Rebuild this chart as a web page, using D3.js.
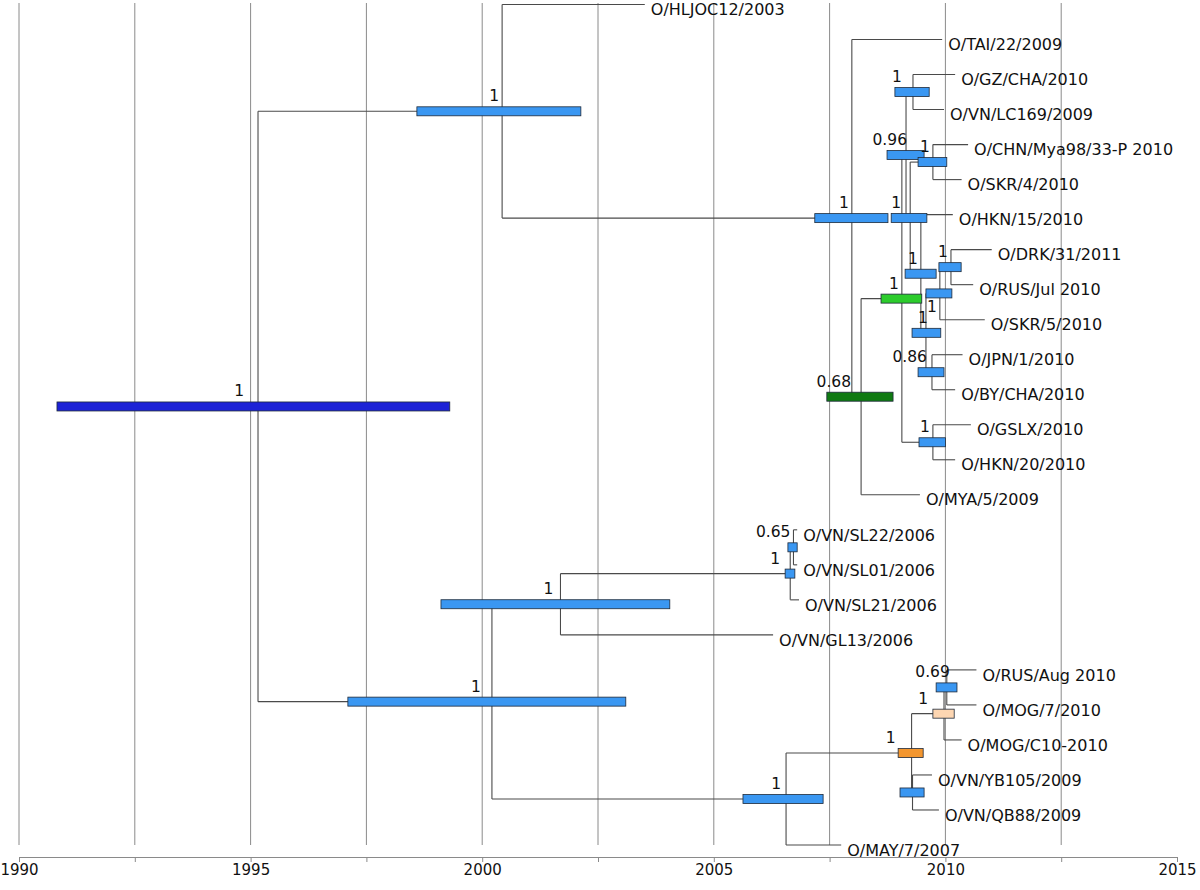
<!DOCTYPE html>
<html>
<head>
<meta charset="utf-8">
<script src="https://cdn.jsdelivr.net/npm/d3@7"></script>
<style>
  body { margin: 0; background: #fff; }
  text { font-family: "DejaVu Sans", sans-serif; }
</style>
</head>
<body>
<script>
// ---------------- DATA ----------------
const leafNames = [
  "O/HLJOC12/2003", "O/TAI/22/2009", "O/GZ/CHA/2010", "O/VN/LC169/2009",
  "O/CHN/Mya98/33-P 2010", "O/SKR/4/2010", "O/HKN/15/2010", "O/DRK/31/2011",
  "O/RUS/Jul 2010", "O/SKR/5/2010", "O/JPN/1/2010", "O/BY/CHA/2010",
  "O/GSLX/2010", "O/HKN/20/2010", "O/MYA/5/2009", "O/VN/SL22/2006",
  "O/VN/SL01/2006", "O/VN/SL21/2006", "O/VN/GL13/2006", "O/RUS/Aug 2010",
  "O/MOG/7/2010", "O/MOG/C10-2010", "O/VN/YB105/2009", "O/VN/QB88/2009",
  "O/MAY/7/2007"
];
const leafDates = [
  2003.51, 2009.93, 2010.21, 2009.97,
  2010.49, 2010.35, 2010.16, 2011.00,
  2010.60, 2010.85, 2010.37, 2010.21,
  2010.55, 2010.21, 2009.45, 2006.80,
  2006.80, 2006.84, 2006.28, 2010.67,
  2010.67, 2010.35, 2009.71, 2009.86,
  2007.75
];

const nodeNames = ["root","T","A","B","C","N3","N1","N4","N2","N5","N8","N7","N6","N9","N10",
                   "Bt","V","S1","S2","M","O","P","R","Q"];
const nodeChildren = [
  ["T","Bt"],
  ["O/HLJOC12/2003","A"],
  ["O/TAI/22/2009","B"],
  ["C","O/MYA/5/2009"],
  ["N3","N10"],
  ["N1","N4"],
  ["O/GZ/CHA/2010","O/VN/LC169/2009"],
  ["N2","N5"],
  ["O/CHN/Mya98/33-P 2010","O/SKR/4/2010"],
  ["O/HKN/15/2010","N8"],
  ["N7","N9"],
  ["N6","O/SKR/5/2010"],
  ["O/DRK/31/2011","O/RUS/Jul 2010"],
  ["O/JPN/1/2010","O/BY/CHA/2010"],
  ["O/GSLX/2010","O/HKN/20/2010"],
  ["V","M"],
  ["S1","O/VN/GL13/2006"],
  ["S2","O/VN/SL21/2006"],
  ["O/VN/SL22/2006","O/VN/SL01/2006"],
  ["O","O/MAY/7/2007"],
  ["P","Q"],
  ["R","O/MOG/C10-2010"],
  ["O/RUS/Aug 2010","O/MOG/7/2010"],
  ["O/VN/YB105/2009","O/VN/QB88/2009"]
];
const nodeDates = [1995.16, 2000.43, 2007.98, 2008.18, 2009.06, 2009.15, 2009.30, 2009.24, 2009.73,
                   2009.47, 2009.58, 2009.88, 2010.12, 2009.71, 2009.73,
                   2000.21, 2001.69, 2006.65, 2006.72, 2006.56, 2009.27, 2009.97, 2010.03, 2009.29];
const nodePosterior = ["1","1","1","0.68","1","0.96","1","1","1","1","1","1","1","0.86","1",
                       "1","1","1","0.65","1","1","1","0.69",null];
const hpdLower = [1990.82, 1998.59, 2007.18, 2007.44, 2008.61, 2008.74, 2008.91, 2008.83, 2009.41,
                  2009.13, 2009.28, 2009.58, 2009.86, 2009.41, 2009.43,
                  1997.10, 1999.11, 2006.54, 2006.60, 2005.63, 2008.98, 2009.73, 2009.80, 2009.02];
const hpdUpper = [1999.30, 2002.13, 2008.76, 2008.87, 2009.49, 2009.54, 2009.65, 2009.60, 2010.03,
                  2009.80, 2009.90, 2010.14, 2010.34, 2009.97, 2010.00,
                  2003.10, 2004.05, 2006.75, 2006.80, 2007.36, 2009.52, 2010.19, 2010.25, 2009.54];

const gridYears = [1990, 1992.5, 1995, 1997.5, 2000, 2002.5, 2005, 2007.5, 2010, 2012.5];
const tickYears = [1990, 1992.5, 1995, 1997.5, 2000, 2002.5, 2005, 2007.5, 2010, 2012.5, 2015];
const tickLabels = ["1990", "", "1995", "", "2000", "", "2005", "", "2010", "", "2015"];

// ---------------- STYLE / PLACEMENT ----------------
const barFill = {
  root: "#1c22d6", B: "#0f7a12", C: "#2ccc2c", O: "#f3962f", P: "#fdd6b2"
};
const defaultBarFill = "#3a97f2";
const labelBelow = new Set(["N7"]);
const labelNudge = { root: -11, N4: -6, N1: -8, N8: 5, Bt: -8, V: -4, S1: -7, M: -2,
                     O: -13, P: -13, N3: 4, N9: -2, B: -7, R: 6 };

// ---------------- LAYOUT ----------------
const W = 1200, H = 890;
const x = d3.scaleLinear().domain([1990, 2015]).range([19, 1177]);
const y = d3.scalePoint().domain(leafNames).range([4.5, 845]);

const pos = {};
leafNames.forEach((n, i) => { pos[n] = { x: x(leafDates[i]), y: y(n), leaf: true }; });
const nodeIndex = {};
nodeNames.forEach((n, i) => nodeIndex[n] = i);
function place(n) {
  if (pos[n]) return pos[n];
  const i = nodeIndex[n];
  const kids = nodeChildren[i].map(place);
  pos[n] = { x: x(nodeDates[i]), y: d3.mean([kids[0].y, kids[kids.length - 1].y]), leaf: false };
  return pos[n];
}
place("root");

const svg = d3.select("body").append("svg").attr("width", W).attr("height", H);

// grid
svg.append("g").selectAll("line").data(gridYears).join("line")
  .attr("x1", d => x(d)).attr("x2", d => x(d))
  .attr("y1", 3).attr("y2", 845)
  .attr("stroke", "#8a8a8a").attr("stroke-width", 1);

// axis
const axis = d3.axisBottom(x).tickValues(tickYears)
  .tickFormat((d, i) => tickLabels[i]).tickSize(5).tickSizeOuter(0).tickPadding(2);
const ax = svg.append("g").attr("transform", "translate(0,857)").call(axis);
ax.select(".domain").attr("stroke", "#8a8a8a").attr("stroke-width", 1.2);
ax.selectAll(".tick line").attr("stroke", "#8a8a8a");
ax.selectAll(".tick text").attr("font-family", "DejaVu Sans").attr("font-size", 15).attr("fill", "#111");

// branches
const branchG = svg.append("g").attr("fill", "none").attr("stroke", "#4a4a4a").attr("stroke-width", 1.1);
nodeNames.forEach((n, i) => {
  const p = pos[n];
  const kids = nodeChildren[i].map(k => pos[k]);
  branchG.append("path").attr("d", `M${p.x},${kids[0].y}V${kids[kids.length - 1].y}`);
  kids.forEach(k => branchG.append("path").attr("d", `M${p.x},${k.y}H${k.x}`));
});

// HPD bars
svg.append("g").selectAll("rect").data(nodeNames).join("rect")
  .attr("x", (d, i) => x(hpdLower[i]))
  .attr("width", (d, i) => x(hpdUpper[i]) - x(hpdLower[i]))
  .attr("y", d => pos[d].y - 4.5).attr("height", 9)
  .attr("fill", d => barFill[d] || defaultBarFill)
  .attr("stroke", "#1e2a3a").attr("stroke-width", 0.8);

// posterior labels
svg.append("g").selectAll("text").data(nodeNames.filter((d, i) => nodePosterior[i] !== null)).join("text")
  .attr("x", d => pos[d].x - 3 + (labelNudge[d] || 0))
  .attr("y", d => labelBelow.has(d) ? pos[d].y + 19 : pos[d].y - 10)
  .attr("text-anchor", "end").attr("font-size", 15.5).attr("fill", "#111")
  .text(d => nodePosterior[nodeIndex[d]]);

// leaf labels
svg.append("g").selectAll("text").data(leafNames).join("text")
  .attr("x", d => pos[d].x + 6).attr("y", d => pos[d].y + 10.7)
  .attr("font-size", 16).attr("fill", "#111")
  .text(d => d);
</script>
</body>
</html>
